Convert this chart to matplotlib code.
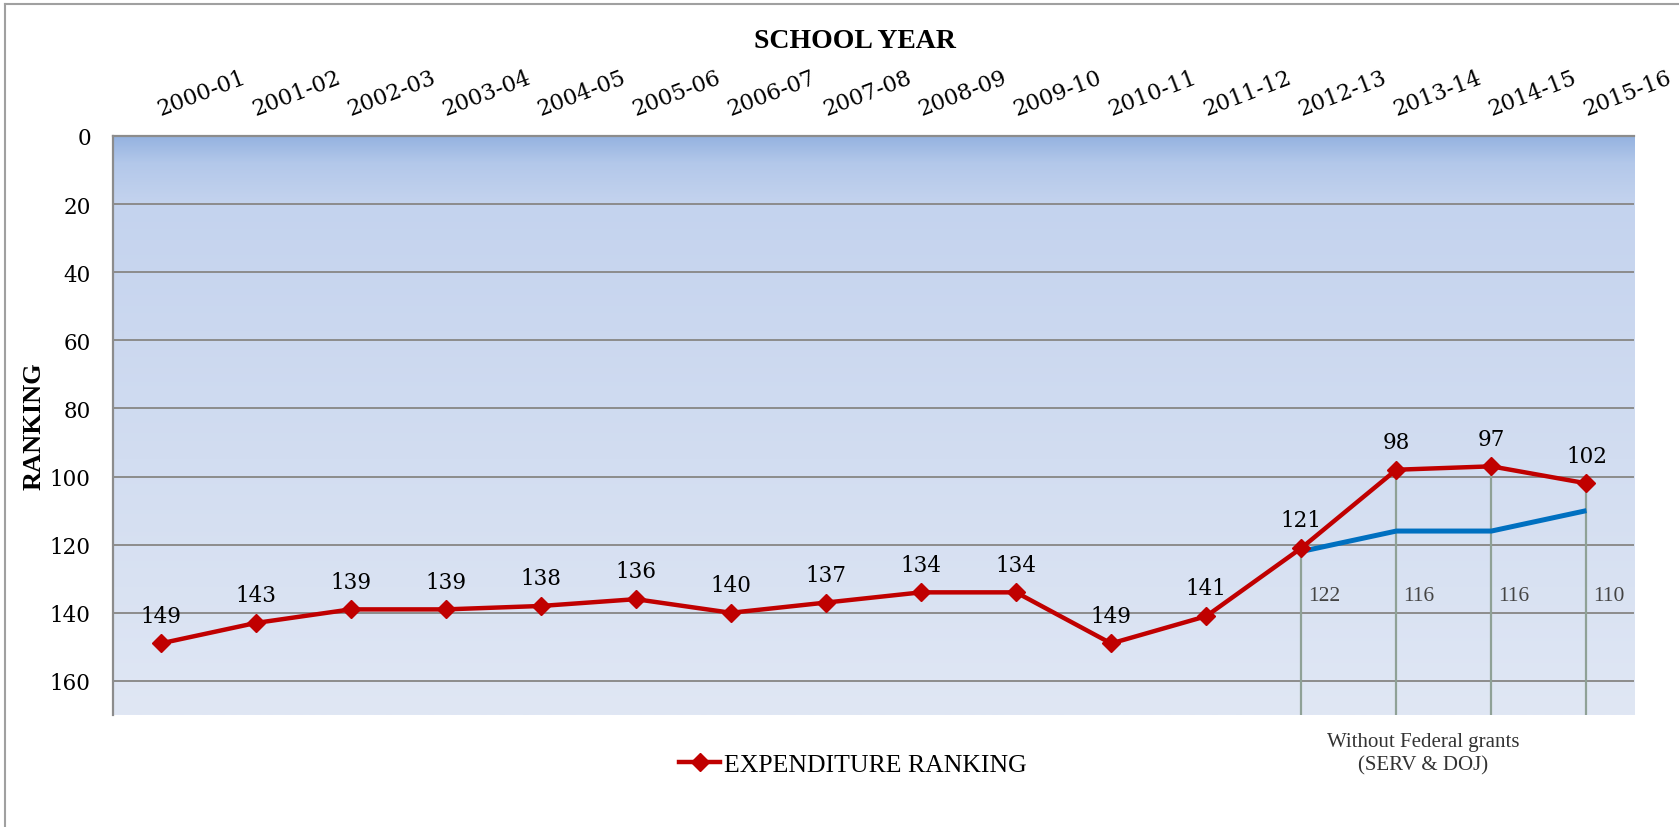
import numpy as np
import matplotlib
matplotlib.use("Agg")
import matplotlib.pyplot as plt
from matplotlib.lines import Line2D

years = ['2000-01', '2001-02', '2002-03', '2003-04', '2004-05', '2005-06',
         '2006-07', '2007-08', '2008-09', '2009-10', '2010-11', '2011-12',
         '2012-13', '2013-14', '2014-15', '2015-16']
ranking = [149, 143, 139, 139, 138, 136, 140, 137, 134, 134, 149, 141,
           121, 98, 97, 102]
# ranking without federal grants (SERV & DOJ), last four years
no_grant_years = ['2012-13', '2013-14', '2014-15', '2015-16']
no_grant = [122, 116, 116, 110]

yticks = [0, 20, 40, 60, 80, 100, 120, 140, 160]

num_font = 'DejaVu Serif'
txt_font = 'Liberation Serif'
red = '#C00000'
blue = '#0070C0'
grid_col = '#8C8C8C'

fig = plt.figure(figsize=(16.79, 8.28), dpi=100)
ax = fig.add_axes([0.0673, 0.1353, 0.9059, 0.6993])

x = np.arange(len(years))
xg = np.array([years.index(y) for y in no_grant_years])

# background gradient, darker blue at the top
rows = np.linspace(0, 170, 300)
stops = [0, 8, 20, 170]
c_top = np.array([[0x94, 0xB2, 0xE0], [0xB3, 0xC8, 0xEA],
                  [0xC4, 0xD3, 0xEE], [0xE0, 0xE7, 0xF4]]) / 255.0
grad = np.stack([np.interp(rows, stops, c_top[:, k]) for k in range(3)], axis=1)
grad = grad[:, None, :]
ax.imshow(grad, extent=(-0.5, 15.5, 170, 0), aspect='auto', zorder=0,
          interpolation='bilinear')

ax.set_xlim(-0.5, 15.5)
ax.set_ylim(170, 0)

ax.yaxis.grid(True, color=grid_col, lw=1.4)
ax.set_axisbelow(True)

# drop lines from the expenditure ranking down to the axis floor
ax.vlines(xg, [ranking[i] for i in xg], 170, color='#8FA196', lw=1.6, zorder=2)

ax.plot(xg, no_grant, color=blue, lw=3.6, zorder=3, solid_capstyle='butt')
ax.plot(x, ranking, color=red, lw=3.2, marker='D', ms=9, zorder=4,
        label='EXPENDITURE RANKING')

for xi, v in zip(x, ranking):
    ax.annotate(str(v), (xi, v), xytext=(0, 20), textcoords='offset points',
                ha='center', va='center', fontsize=15.5, family=num_font,
                color='black', zorder=5)

for xi, v in zip(xg, no_grant):
    ax.text(xi + 0.07, 135, str(v), ha='left', va='center', fontsize=15.5,
            family=txt_font, color='#444444', zorder=5)

ax.set_yticks(yticks)
ax.set_yticklabels([str(t) for t in yticks], family=num_font, fontsize=15.5)
ax.tick_params(axis='y', length=0, pad=16)

ax.xaxis.tick_top()
ax.set_xticks(x)
ax.set_xticklabels(years, family=num_font, fontsize=16, rotation=21,
                   ha='left', va='baseline', rotation_mode='anchor')
ax.tick_params(axis='x', length=0, pad=15)

for s in ['right', 'bottom']:
    ax.spines[s].set_visible(False)
for s in ['top', 'left']:
    ax.spines[s].set_color(grid_col)
    ax.spines[s].set_linewidth(1.6)

fig.text(0.509, 0.950, 'SCHOOL YEAR', ha='center', va='center',
         fontsize=20, fontweight='bold', family=txt_font)
fig.text(0.020, 0.485, 'RANKING', ha='center', va='center', rotation=90,
         fontsize=19, fontweight='bold', family=txt_font)

fig.text(1423 / 1679, 1 - 754 / 828, 'Without Federal grants\n(SERV & DOJ)',
         ha='center', va='center', fontsize=15, family=txt_font,
         color='#333333', linespacing=1.3)

leg = ax.legend(loc='center', bbox_to_anchor=(0.508, 0.076),
                bbox_transform=fig.transFigure, frameon=False,
                handlelength=1.6, handletextpad=0.15,
                prop={'family': txt_font, 'size': 18.5})

# outer frame (left and top edges)
fig.add_artist(Line2D([0.003, 0.003], [0, 0.994], transform=fig.transFigure,
                      color='#A0A0A0', lw=1.5))
fig.add_artist(Line2D([0.003, 1], [0.994, 0.994], transform=fig.transFigure,
                      color='#A0A0A0', lw=1.5))

fig.savefig('out.png', dpi=100)
